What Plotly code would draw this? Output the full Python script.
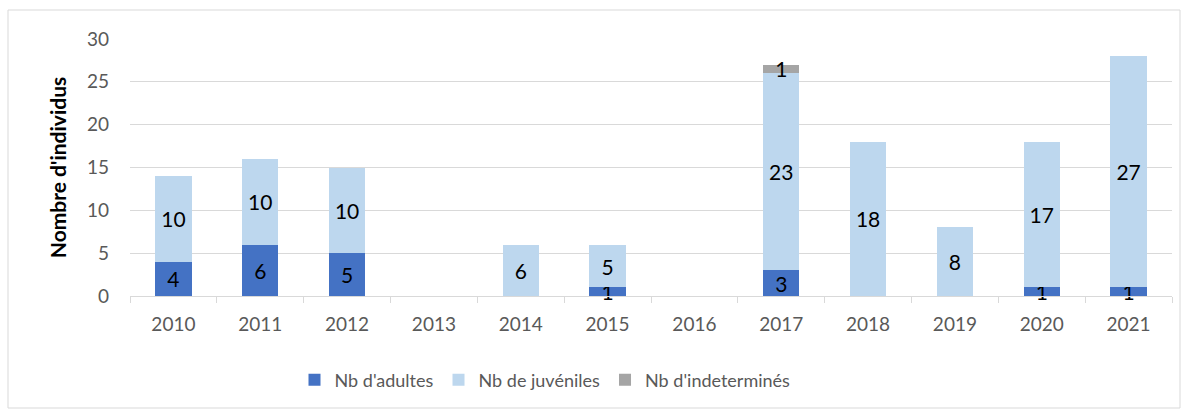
import plotly.graph_objects as go

years = ["2010", "2011", "2012", "2013", "2014", "2015", "2016", "2017", "2018", "2019", "2020", "2021"]
adultes = [4, 6, 5, 0, 0, 1, 0, 3, 0, 0, 1, 1]
juveniles = [10, 10, 10, 0, 6, 5, 0, 23, 18, 8, 17, 27]
indetermines = [0, 0, 0, 0, 0, 0, 0, 1, 0, 0, 0, 0]

series = [
    ("Nb d'adultes", adultes, "#4472C4"),
    ("Nb de juvéniles", juveniles, "#BDD7EE"),
    ("Nb d'indeterminés", indetermines, "#A5A5A5"),
]

FONT = "Lato, 'Open Sans', sans-serif"

fig = go.Figure()
for name, vals, col in series:
    fig.add_trace(go.Bar(
        x=years, y=vals, name=name, marker=dict(color=col, line=dict(width=0)),
        text=[str(v) if v else "" for v in vals],
        textposition="inside", insidetextanchor="middle", textangle=0,
        constraintext="none", cliponaxis=False,
        textfont=dict(color="#000000", size=21, family=FONT),
    ))

L, R, T, B = 130, 17, 39, 116
W, H = 1189, 412
pw, ph = W - L - R, H - T - B

fig.update_layout(
    barmode="stack", bargap=0.58,
    width=W, height=H,
    margin=dict(l=L, r=R, t=T, b=B, autoexpand=False),
    paper_bgcolor="white", plot_bgcolor="white",
    font=dict(family=FONT, color="#595959", size=18),
    legend=dict(orientation="h", x=(545 - L) / pw, xanchor="center", y=(H - B - 380) / ph, yanchor="middle",
                font=dict(size=18, color="#595959", family=FONT), traceorder="normal",
                itemwidth=30),
    xaxis=dict(type="category", showgrid=False, showline=True, linecolor="#D9D9D9", linewidth=1,
               ticks="outside", tickson="boundaries", ticklen=6, tickcolor="#D9D9D9",
               ticklabelstandoff=11,
               tickfont=dict(size=19, color="#595959")),
    yaxis=dict(range=[0, 30], dtick=5, showgrid=True, gridcolor="#D9D9D9", gridwidth=1,
               zeroline=False, tickfont=dict(size=19, color="#595959"), ticks="",
               ticklabelstandoff=20,
               title=dict(text="<b>Nombre d'individus</b>", font=dict(size=21, color="#000000"), standoff=14)),
    shapes=[dict(type="rect", xref="paper", yref="paper",
                 x0=(8 - L) / pw, x1=(1180 - L) / pw,
                 y0=(H - B - 408) / ph, y1=(H - B - 10) / ph,
                 line=dict(color="#D9D9D9", width=1), fillcolor="rgba(0,0,0,0)", layer="below")],
)

fig.write_html("out.html", config={"displayModeBar": False},
               post_script="document.body.style.margin='0';")
